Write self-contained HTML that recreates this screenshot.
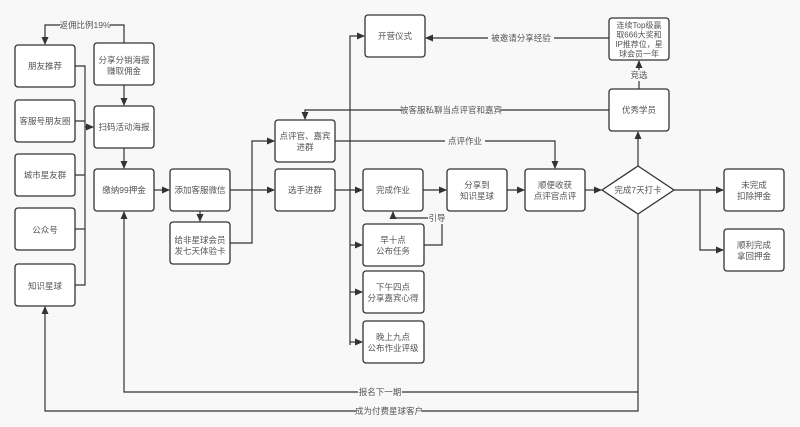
<!DOCTYPE html>
<html><head><meta charset="utf-8"><style>
html,body{margin:0;padding:0;background:#f8f8f8;}
svg{display:block;font-family:"Liberation Sans","Noto Sans CJK SC",sans-serif;}
text{font-size:8.5px;fill:#555;text-anchor:middle;}
.b{fill:#fff;stroke:#333;stroke-width:1.3;}
.l{fill:none;stroke:#333;stroke-width:1.2;}
.lb{fill:#f8f8f8;}
</style></head><body>
<svg width="800" height="427" viewBox="0 0 800 427">
<defs><marker id="a" markerWidth="8" markerHeight="8" refX="7" refY="4" orient="auto" markerUnits="userSpaceOnUse"><path d="M0,0.5 L8,4 L0,7.5z" fill="#333"/></marker></defs>
<path class="l" d="M124,43 V25 H45 V44" marker-end="url(#a)"/>
<path class="l" d="M75,66 H85 V285 H75 M75,121 H85 M75,175 H85 M75,229 H85"/>
<path class="l" d="M85,127 H93" marker-end="url(#a)"/>
<path class="l" d="M124,85 V105" marker-end="url(#a)"/>
<path class="l" d="M124,148 V168" marker-end="url(#a)"/>
<path class="l" d="M154,190 H169" marker-end="url(#a)"/>
<path class="l" d="M200,211 V221" marker-end="url(#a)"/>
<path class="l" d="M230,190 H274" marker-end="url(#a)"/>
<path class="l" d="M230,243 H252 V141 H274" marker-end="url(#a)"/>
<path class="l" d="M335,190 H362" marker-end="url(#a)"/>
<path class="l" d="M350,345 V36 H364" marker-end="url(#a)"/>
<path class="l" d="M350,245 H362" marker-end="url(#a)"/>
<path class="l" d="M350,292 H362" marker-end="url(#a)"/>
<path class="l" d="M350,342 H362" marker-end="url(#a)"/>
<path class="l" d="M423,190 H446" marker-end="url(#a)"/>
<path class="l" d="M507,190 H524" marker-end="url(#a)"/>
<path class="l" d="M585,190 H601" marker-end="url(#a)"/>
<path class="l" d="M424,245 H442 V218 H393 V212" marker-end="url(#a)"/>
<path class="l" d="M335,141 H555 V168" marker-end="url(#a)"/>
<path class="l" d="M609,110 H305 V119" marker-end="url(#a)"/>
<path class="l" d="M609,38 H426" marker-end="url(#a)"/>
<path class="l" d="M638,166 V132" marker-end="url(#a)"/>
<path class="l" d="M639,89 V61" marker-end="url(#a)"/>
<path class="l" d="M674,190 H723" marker-end="url(#a)"/>
<path class="l" d="M700,190 V250 H723" marker-end="url(#a)"/>
<path class="l" d="M638,214 V411 H45 V307" marker-end="url(#a)"/>
<path class="l" d="M638,392 H124 V212" marker-end="url(#a)"/>
<rect class="lb" x="60" y="19" width="50" height="11"/><text x="85" y="28">返佣比例19%</text>
<rect class="lb" x="488" y="33" width="66" height="11"/><text x="521" y="41">被邀请分享经验</text>
<rect class="lb" x="402" y="105" width="98" height="11"/><text x="451" y="113">被客服私聊当点评官和嘉宾</text>
<rect class="lb" x="445" y="136" width="40" height="11"/><text x="465" y="144">点评作业</text>
<rect class="lb" x="428" y="213" width="18" height="11"/><text x="437" y="221">引导</text>
<rect class="lb" x="628" y="70" width="22" height="11"/><text x="639" y="78">竞选</text>
<rect class="lb" x="358" y="387" width="44" height="11"/><text x="380" y="395">报名下一期</text>
<rect class="lb" x="356" y="406" width="66" height="11"/><text x="389" y="414">成为付费星球客户</text>
<g>
<rect class="b" x="15" y="45" width="60" height="42" rx="3"/><text x="45" y="69">朋友推荐</text>
<rect class="b" x="15" y="100" width="60" height="42" rx="3"/><text x="45" y="124">客服号朋友圈</text>
<rect class="b" x="15" y="154" width="60" height="42" rx="3"/><text x="45" y="178">城市星友群</text>
<rect class="b" x="15" y="208" width="60" height="42" rx="3"/><text x="45" y="233">公众号</text>
<rect class="b" x="15" y="264" width="60" height="42" rx="3"/><text x="45" y="289">知识星球</text>
<rect class="b" x="94" y="43" width="60" height="42" rx="3"/><text x="124" y="63">分享分销海报</text><text x="124" y="74">赚取佣金</text>
<rect class="b" x="94" y="106" width="60" height="42" rx="3"/><text x="124" y="130">扫码活动海报</text>
<rect class="b" x="94" y="169" width="60" height="42" rx="3"/><text x="124" y="193">缴纳99押金</text>
<rect class="b" x="170" y="169" width="60" height="42" rx="3"/><text x="200" y="193">添加客服微信</text>
<rect class="b" x="170" y="222" width="60" height="42" rx="3"/><text x="200" y="243">给非星球会员</text><text x="200" y="254">发七天体验卡</text>
<rect class="b" x="275" y="120" width="60" height="42" rx="3"/><text x="305" y="139">点评官、嘉宾</text><text x="305" y="150">进群</text>
<rect class="b" x="275" y="169" width="60" height="42" rx="3"/><text x="305" y="193">选手进群</text>
<rect class="b" x="365" y="15" width="60" height="42" rx="3"/><text x="395" y="39">开营仪式</text>
<rect class="b" x="363" y="169" width="60" height="42" rx="3"/><text x="393" y="193">完成作业</text>
<rect class="b" x="363" y="224" width="61" height="42" rx="3"/><text x="393" y="243">早十点</text><text x="393" y="254">公布任务</text>
<rect class="b" x="363" y="271" width="61" height="42" rx="3"/><text x="393" y="290">下午四点</text><text x="393" y="301">分享嘉宾心得</text>
<rect class="b" x="363" y="321" width="61" height="42" rx="3"/><text x="393" y="340">晚上九点</text><text x="393" y="351">公布作业评级</text>
<rect class="b" x="447" y="169" width="60" height="42" rx="3"/><text x="477" y="188">分享到</text><text x="477" y="199">知识星球</text>
<rect class="b" x="525" y="169" width="60" height="42" rx="3"/><text x="555" y="188">顺便收获</text><text x="555" y="199">点评官点评</text>
<polygon class="b" points="638,166 674,190 638,214 602,190"/><text x="638" y="193">完成7天打卡</text>
<rect class="b" x="609" y="89" width="60" height="42" rx="3"/><text x="639" y="113">优秀学员</text>
<rect class="b" x="609" y="18" width="60" height="42" rx="3"/>
<g style="font-size:8px"><text x="639" y="28" style="font-size:8px">连续Top级赢</text><text x="639" y="37.5" style="font-size:8px">取666大奖和</text><text x="639" y="47" style="font-size:8px">IP推荐位，星</text><text x="639" y="56.5" style="font-size:8px">球会员一年</text></g>
<rect class="b" x="724" y="169" width="60" height="42" rx="3"/><text x="754" y="188">未完成</text><text x="754" y="199">扣除押金</text>
<rect class="b" x="724" y="229" width="60" height="42" rx="3"/><text x="754" y="248">顺利完成</text><text x="754" y="259">拿回押金</text>
</g>
</svg>
</body></html>
